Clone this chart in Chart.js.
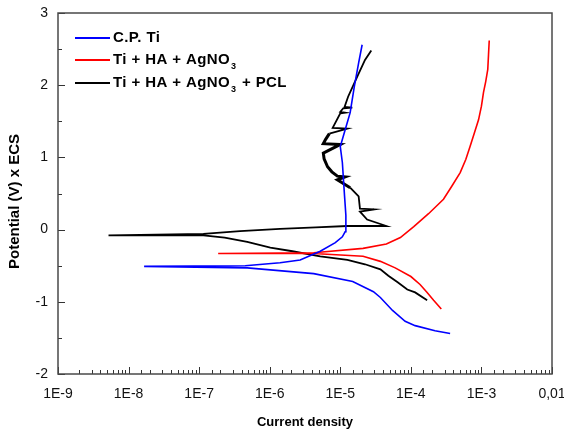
<!DOCTYPE html>
<html>
<head>
<meta charset="utf-8">
<script src="https://cdn.jsdelivr.net/npm/chart.js@4.4.1/dist/chart.umd.min.js"></script>
<style>
  html, body { margin: 0; padding: 0; background: #fff; }
  #wrap { width: 564px; height: 430px; }
</style>
</head>
<body>
<div id="wrap"><canvas id="tafel-canvas"></canvas></div>
<script>
// Tafel curves - current density vs potential (V) x ECS

var seriesLabels = ["C.P. Ti", "Ti + HA + AgNO₃", "Ti + HA + AgNO₃ + PCL"];
var seriesColors = ["#0000ff", "#ff0000", "#000000"];
var yTitle = "Potential (V) x ECS";

// C.P. Ti (cathodic end -> Ecorr -> anodic end)
var tiCurrent = [3.6e-4, 2.2e-4, 1.15e-4, 8.3e-5, 5.5e-5, 3.7e-5, 2.95e-5, 1.5e-5, 4.2e-6, 4.8e-7, 1.66e-8,
  4.5e-7, 1.4e-6, 2.7e-6, 5.2e-6, 8.5e-6, 1.07e-5, 1.17e-5, 1.2e-5, 1.15e-5, 1.07e-5, 1.0e-5, 1.17e-5, 1.38e-5, 1.58e-5, 1.82e-5, 2.04e-5];
var tiPotential = [-1.44, -1.40, -1.33, -1.27, -1.12, -0.94, -0.86, -0.72, -0.61, -0.53, -0.51,
  -0.5, -0.46, -0.42, -0.30, -0.18, -0.10, -0.03, 0.2, 0.46, 0.93, 1.15, 1.38, 1.62, 1.98, 2.31, 2.56];

// Ti + HA + AgNO3
var agCurrent = [2.7e-4, 2.1e-4, 1.7e-4, 1.35e-4, 1.0e-4, 6.0e-5, 3.7e-5, 2.1e-5, 4.2e-6, 1.86e-7,
  4.2e-6, 2.1e-5, 4.5e-5, 7.1e-5, 1.1e-4, 1.78e-4, 2.9e-4, 3.8e-4, 5.0e-4, 6.0e-4, 6.9e-4, 7.9e-4, 9.1e-4, 1.0e-3, 1.07e-3, 1.15e-3, 1.23e-3, 1.26e-3, 1.29e-3];
var agPotential = [-1.1, -0.98, -0.87, -0.76, -0.65, -0.53, -0.44, -0.37, -0.33, -0.33,
  -0.32, -0.26, -0.2, -0.11, 0.04, 0.22, 0.42, 0.6, 0.79, 0.97, 1.15, 1.33, 1.52, 1.71, 1.9, 2.05, 2.22, 2.42, 2.62];

// Ti + HA + AgNO3 + PCL
var pclCurrent = [1.7e-4, 1.15e-4, 8.9e-5, 6.5e-5, 4.8e-5, 3.7e-5, 2.24e-5, 1.26e-5, 5.2e-6, 2.1e-6, 1.02e-6, 4.8e-7, 2.3e-7, 1.15e-7, 5.2e-9,
  1.15e-7, 3.8e-7, 1.4e-6, 4.5e-6, 1.26e-5, 4.5e-5, 2.4e-5, 1.9e-5, 3.0e-5, 1.9e-5, 1.82e-5, 1.38e-5, 9.1e-6, 1.17e-5, 9.1e-6,
  7.6e-6, 6.6e-6, 5.9e-6, 5.75e-6, 1.0e-5, 5.75e-6, 6.2e-6, 7.0e-6, 1.26e-5, 7.8e-6, 1.0e-5, 1.17e-5, 1.0e-5, 1.1e-5, 1.48e-5, 1.15e-5,
  1.29e-5, 1.74e-5, 2.24e-5, 2.75e-5];
var pclPotential = [-0.98, -0.87, -0.83, -0.73, -0.64, -0.55, -0.48, -0.42, -0.37, -0.3, -0.25, -0.17, -0.11, -0.08, -0.08,
  -0.06, -0.02, 0.01, 0.03, 0.05, 0.05, 0.14, 0.25, 0.28, 0.29, 0.46, 0.58, 0.69, 0.73, 0.74,
  0.8, 0.87, 0.98, 1.06, 1.18, 1.19, 1.25, 1.33, 1.4, 1.41, 1.61, 1.62, 1.63, 1.68, 1.69, 1.70,
  1.84, 2.12, 2.35, 2.48];

var yTickValues = [-2, -1, 0, 1, 2, 3];

var fontFamily = "'Liberation Sans', Arial, sans-serif";

function toPoints(xs, ys) {
  return xs.map(function (x, i) { return { x: x, y: ys[i] }; });
}

function decadeLabel(v) {
  var e = Math.round(Math.log10(v));
  if (Math.abs(Math.log10(v) - e) > 1e-6) return "";
  if (e === -2) return "0,01";
  return "1E" + e;
}

// frame, inner ticks, y title and legend
var decorPlugin = {
  id: "decor",
  afterDraw: function (chart) {
    var ctx = chart.ctx;
    var a = chart.chartArea;
    var xs = chart.scales.x;
    var ys = chart.scales.y;
    ctx.save();
    ctx.strokeStyle = "#333";
    ctx.lineWidth = 1;
    // x ticks (inward)
    xs.ticks.forEach(function (t) {
      var px = Math.round(xs.getPixelForValue(t.value)) + 0.5;
      var major = decadeLabel(t.value) !== "";
      ctx.beginPath();
      ctx.moveTo(px, a.bottom);
      ctx.lineTo(px, a.bottom - (major ? 7 : 4));
      ctx.stroke();
    });
    // y ticks (inward)
    ys.ticks.forEach(function (t) {
      var py = Math.round(ys.getPixelForValue(t.value)) + 0.5;
      var major = Math.abs(t.value - Math.round(t.value)) < 1e-6;
      ctx.beginPath();
      ctx.moveTo(a.left, py);
      ctx.lineTo(a.left + (major ? 7 : 4), py);
      ctx.stroke();
    });
    // frame
    ctx.strokeStyle = "#4a4a4a";
    ctx.lineWidth = 1.5;
    ctx.strokeRect(a.left, a.top, a.right - a.left, a.bottom - a.top);

    // y title
    ctx.save();
    ctx.translate(15, (a.top + a.bottom) / 2 + 8);
    ctx.rotate(-Math.PI / 2);
    ctx.font = "bold 15px " + fontFamily;
    ctx.fillStyle = "#000";
    ctx.textAlign = "center";
    ctx.textBaseline = "middle";
    ctx.fillText(yTitle, 0, 0);
    ctx.restore();

    // legend
    var rowY = [25, 47, 70];
    chart.data.datasets.forEach(function (ds, i) {
      var y = a.top + rowY[i];
      ctx.strokeStyle = ds.borderColor;
      ctx.lineWidth = 1.8;
      ctx.beginPath();
      ctx.moveTo(a.left + 17, y);
      ctx.lineTo(a.left + 52, y);
      ctx.stroke();
      var x = a.left + 55;
      ctx.fillStyle = "#000";
      ctx.textBaseline = "middle";
      ctx.letterSpacing = "0.4px";
      var parts = ds.label.split("₃");
      parts.forEach(function (p, k) {
        ctx.font = "bold 15px " + fontFamily;
        ctx.fillText(p, x, y);
        x += ctx.measureText(p).width;
        if (k < parts.length - 1) {
          ctx.font = "bold 9px " + fontFamily;
          ctx.fillText("3", x + 1, y + 7);
          x += ctx.measureText("3").width + 2;
        }
      });
    });
    ctx.restore();
  }
};

var tafelCanvas = document.getElementById("tafel-canvas");

var tafelChart = new Chart(tafelCanvas, {
  type: "scatter",
  data: {
    datasets: [
      { label: seriesLabels[0], data: toPoints(tiCurrent, tiPotential), borderColor: seriesColors[0], borderWidth: 1.6 },
      { label: seriesLabels[1], data: toPoints(agCurrent, agPotential), borderColor: seriesColors[1], borderWidth: 1.6 },
      {
        label: seriesLabels[2],
        data: toPoints(pclCurrent, pclPotential),
        borderColor: seriesColors[2],
        borderWidth: 1.8,
        segment: {
          // noisy passive region looks thicker
          borderWidth: function (c) {
            var y0 = c.p0.parsed.y, y1 = c.p1.parsed.y;
            return (y0 > 0.5 && y1 > 0.5 && y0 < 1.35 && y1 < 1.35) ? 3 : 1.8;
          }
        }
      }
    ]
  },
  options: {
    responsive: true,
    maintainAspectRatio: false,
    animation: false,
    showLine: true,
    elements: { point: { radius: 0, hoverRadius: 0 }, line: { tension: 0 } },
    layout: { padding: { top: 13, right: 12, left: 0, bottom: 0 } },
    plugins: { legend: { display: false }, tooltip: { enabled: false } },
    scales: {
      x: {
        type: "logarithmic",
        min: 1e-9,
        max: 1e-2,
        grid: { display: false, drawTicks: false },
        border: { display: false },
        afterFit: function (s) { s.height = 56; s.paddingLeft = 0; s.paddingRight = 0; },
        ticks: {
          autoSkip: false,
          maxRotation: 0,
          padding: 12,
          color: "#111",
          font: { family: fontFamily, size: 14 },
          callback: function (v) { return decadeLabel(v); }
        },
        title: {
          display: true,
          text: "Current density",
          color: "#000",
          padding: { top: 10, bottom: 0 },
          font: { family: fontFamily, size: 13, weight: "bold" }
        }
      },
      y: {
        min: yTickValues[0],
        max: yTickValues[yTickValues.length - 1],
        grid: { display: false, drawTicks: false },
        border: { display: false },
        afterFit: function (s) { s.width = 58; s.paddingTop = 0; s.paddingBottom = 0; },
        ticks: {
          stepSize: 0.5,
          padding: 10,
          color: "#111",
          font: { family: fontFamily, size: 14 },
          callback: function (v) { return yTickValues.indexOf(v) >= 0 ? String(v) : ""; }
        }
      }
    }
  },
  plugins: [decorPlugin]
});
</script>
</body>
</html>
